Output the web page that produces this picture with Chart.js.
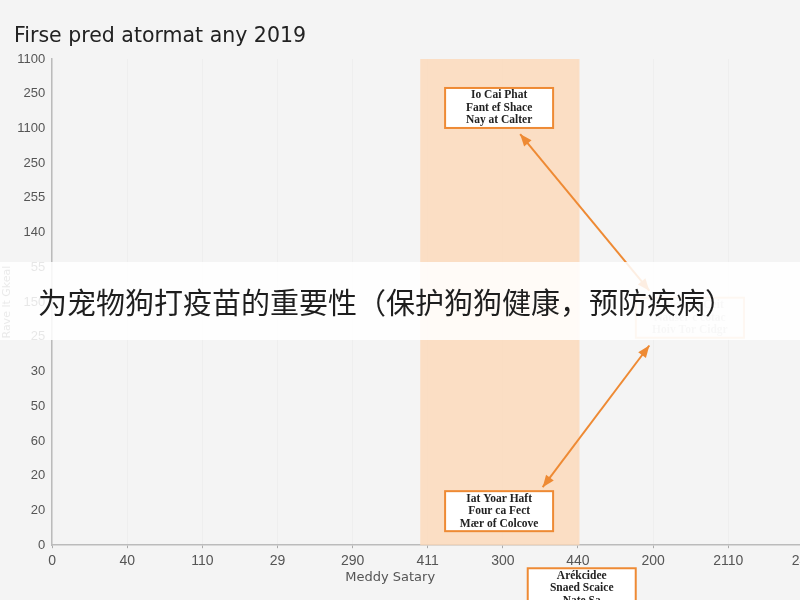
<!DOCTYPE html>
<html>
<head>
<meta charset="utf-8">
<script src="https://cdn.jsdelivr.net/npm/chart.js@4"></script>
<style>
  html, body { margin: 0; padding: 0; background: #f4f4f4; overflow: hidden; }
  #wrap { position: relative; width: 800px; height: 600px; overflow: hidden; }
  #chart-box { position: absolute; left: 0; top: 0; width: 820px; height: 600px; }
  #banner {
    position: absolute; left: 0; top: 262px; width: 800px; height: 78px;
    background: rgba(255, 255, 255, 0.86);
    font-family: "Noto Sans CJK SC", sans-serif; font-size: 29px; color: #1e1e1e;
    line-height: 78px; padding-left: 38px; box-sizing: border-box; white-space: nowrap;
  }
</style>
</head>
<body>
<div id="wrap">
  <div id="chart-box"><canvas id="noise-chart"></canvas></div>
  <div id="banner">为宠物狗打疫苗的重要性（保护狗狗健康，预防疾病）</div>
</div>
<script>
const chartTitle = 'Firse pred atormat any 2019';
const xAxisTitle = 'Meddy Satary';
const yAxisTitle = 'Rave lt Gkeal';

// tick labels, left to right / bottom to top
const xTickLabels = ['0', '40', '110', '29', '290', '411', '300', '440', '200', '2110', '240'];
const yTickLabels = ['0', '20', '20', '60', '50', '30', '25', '150', '55', '140', '255', '250', '1100', '250', '1100'];

// shaded band, in x-axis units
const bandRange = [4.9, 7.02];

// callout boxes: anchor in axis units
const notes = [
  { x: 5.95, y: 12.59, lines: ['Io Cai Phat', 'Fant ef Shace', 'Nay at Calter'], faded: false },
  { x: 8.49, y: 6.55, lines: ['Nawer ol Ceit', 'Nauser c cotac', 'Hoiv Tor Cidgr'], faded: true },
  { x: 5.95, y: 0.98, lines: ['Iat Yoar Haft', 'Four ca Fect', 'Mær of Colcove'], faded: false },
  { x: 7.05, y: -1.24, lines: ['Arékcidee', 'Snaed Scaice', 'Nate Sa'], faded: false }
];

// double-headed arrows: [x1, y1, x2, y2] in axis units
const arrows = [
  [6.23, 11.84, 7.95, 7.33],
  [7.95, 5.75, 6.53, 1.67]
];

const orange = 'rgb(238, 138, 52)';

function arrowHead(ctx, fx, fy, tx, ty) {
  const ang = Math.atan2(ty - fy, tx - fx);
  const len = 13;
  ctx.beginPath();
  ctx.moveTo(tx, ty);
  ctx.lineTo(tx - len * Math.cos(ang - 0.38), ty - len * Math.sin(ang - 0.38));
  ctx.lineTo(tx - len * Math.cos(ang + 0.38), ty - len * Math.sin(ang + 0.38));
  ctx.closePath();
  ctx.fill();
}

const bandPlugin = {
  id: 'band',
  beforeDatasetsDraw(chart) {
    const { ctx, chartArea, scales } = chart;
    const x1 = scales.x.getPixelForValue(bandRange[0]);
    const x2 = scales.x.getPixelForValue(bandRange[1]);
    ctx.save();
    ctx.fillStyle = 'rgba(253, 216, 184, 0.8)';
    ctx.fillRect(x1, chartArea.top, x2 - x1, chartArea.bottom - chartArea.top);
    ctx.restore();
  }
};

const notesPlugin = {
  id: 'notes',
  afterDraw(chart) {
    const { ctx, scales } = chart;
    ctx.save();

    // title
    ctx.fillStyle = '#222';
    ctx.font = '20.5px "DejaVu Sans", sans-serif';
    ctx.textAlign = 'left';
    ctx.textBaseline = 'alphabetic';
    ctx.fillText(chartTitle, 14, 42);

    // arrows
    ctx.strokeStyle = orange;
    ctx.fillStyle = orange;
    ctx.lineWidth = 2;
    arrows.forEach(a => {
      const x1 = scales.x.getPixelForValue(a[0]);
      const y1 = scales.y.getPixelForValue(a[1]);
      const x2 = scales.x.getPixelForValue(a[2]);
      const y2 = scales.y.getPixelForValue(a[3]);
      ctx.beginPath();
      ctx.moveTo(x1, y1);
      ctx.lineTo(x2, y2);
      ctx.stroke();
      arrowHead(ctx, x2, y2, x1, y1);
      arrowHead(ctx, x1, y1, x2, y2);
    });

    // boxes
    notes.forEach(n => {
      const cx = scales.x.getPixelForValue(n.x);
      const cy = scales.y.getPixelForValue(n.y);
      const w = 108, h = 40;
      ctx.globalAlpha = n.faded ? 0.45 : 1;
      ctx.fillStyle = '#ffffff';
      ctx.fillRect(cx - w / 2, cy - h / 2, w, h);
      ctx.strokeStyle = orange;
      ctx.lineWidth = 2;
      ctx.strokeRect(cx - w / 2, cy - h / 2, w, h);
      ctx.fillStyle = n.faded ? '#8a8a8a' : '#222';
      ctx.font = 'bold 11.5px "Liberation Serif", serif';
      ctx.textAlign = 'center';
      ctx.textBaseline = 'middle';
      n.lines.forEach((line, i) => {
        ctx.fillText(line, cx, cy + (i - 1) * 12.5);
      });
    });
    ctx.globalAlpha = 1;

    // x axis title
    ctx.fillStyle = '#555';
    ctx.font = '13px "DejaVu Sans", sans-serif';
    ctx.textAlign = 'center';
    ctx.textBaseline = 'middle';
    ctx.fillText(xAxisTitle, scales.x.getPixelForValue(4.5), 578);
    ctx.restore();
  }
};

new Chart(document.querySelector('#noise-chart'), {
  type: 'scatter',
  data: {
    datasets: [{ data: [], pointRadius: 0 }]
  },
  options: {
    responsive: true,
    maintainAspectRatio: false,
    animation: false,
    layout: {
      padding: { left: 1, right: 4, top: 59, bottom: 25 }
    },
    scales: {
      x: {
        type: 'linear',
        min: 0,
        max: xTickLabels.length - 1,
        ticks: {
          stepSize: 1,
          color: '#555',
          font: { family: 'Liberation Sans', size: 14 },
          maxRotation: 0,
          autoSkip: false,
          padding: 5,
          callback: v => xTickLabels[v]
        },
        grid: { color: 'rgba(0,0,0,0.025)', tickColor: '#aaa', tickLength: 3 },
        border: { color: '#bbb', width: 1.5 }
      },
      y: {
        type: 'linear',
        min: 0,
        max: yTickLabels.length - 1,
        ticks: {
          stepSize: 1,
          color: '#555',
          font: { family: 'Liberation Sans', size: 13 },
          autoSkip: false,
          padding: 3,
          callback: v => yTickLabels[v]
        },
        title: {
          display: true,
          text: yAxisTitle,
          color: '#666',
          font: { family: 'DejaVu Sans', size: 11 },
          padding: 0
        },
        grid: { display: false, tickColor: '#aaa', tickLength: 4 },
        border: { color: '#bbb', width: 1.5 }
      }
    },
    plugins: {
      legend: { display: false },
      tooltip: { enabled: false },
      title: { display: false }
    }
  },
  plugins: [bandPlugin, notesPlugin]
});
</script>
</body>
</html>
